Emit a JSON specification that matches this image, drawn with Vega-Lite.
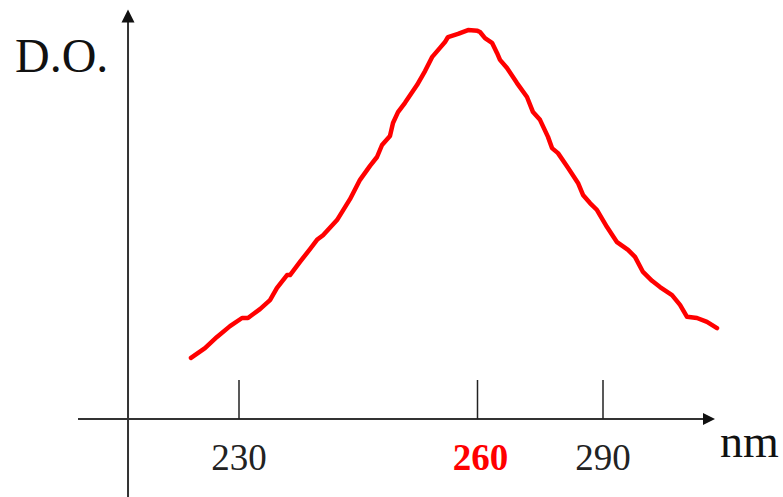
{
  "$schema": "https://vega.github.io/schema/vega-lite/v6.json",
  "width": 783,
  "height": 497,
  "autosize": "none",
  "padding": 0,
  "background": "white",
  "config": {"view": {"stroke": null}},
  "layer": [
    {
      "data": {"values": [
        {"nm": 209.75, "nm2": 314.4, "od": 0}
      ]},
      "mark": {"type": "rule", "color": "#333333", "strokeWidth": 2},
      "encoding": {
        "x": {"field": "nm", "type": "quantitative", "axis": null, "scale": {"domain": [230, 260, 290], "range": [239, 477.5, 603], "nice": false, "zero": false}},
        "x2": {"field": "nm2"},
        "y": {"field": "od", "type": "quantitative", "axis": null, "scale": {"domain": [0, 1], "range": [419, 32], "nice": false, "zero": false}}
      }
    },
    {
      "data": {"values": [
        {"nm": 216.04, "od": -0.21, "od2": 1.03}
      ]},
      "mark": {"type": "rule", "color": "#333333", "strokeWidth": 2},
      "encoding": {
        "x": {"field": "nm", "type": "quantitative"},
        "y": {"field": "od", "type": "quantitative"},
        "y2": {"field": "od2"}
      }
    },
    {
      "data": {"values": [
        {"nm": 216.04, "od": 1.0413, "dir": "up"}
      ]},
      "mark": {"type": "point", "shape": "M0,-1L1,1L-1,1Z", "size": 169, "filled": true, "color": "#111111", "opacity": 1},
      "encoding": {
        "x": {"field": "nm", "type": "quantitative"},
        "y": {"field": "od", "type": "quantitative"}
      }
    },
    {
      "data": {"values": [
        {"nm": 315.34, "od": 0, "dir": "right"}
      ]},
      "mark": {"type": "point", "shape": "M1,0L-1,-1L-1,1Z", "size": 144, "filled": true, "color": "#111111", "opacity": 1},
      "encoding": {
        "x": {"field": "nm", "type": "quantitative"},
        "y": {"field": "od", "type": "quantitative"}
      }
    },
    {
      "data": {"values": [
        {"nm": 230, "od": 0, "od2": 0.1008},
        {"nm": 260, "od": 0, "od2": 0.1008},
        {"nm": 290, "od": 0, "od2": 0.1008}
      ]},
      "mark": {"type": "rule", "color": "#222222", "strokeWidth": 1.5},
      "encoding": {
        "x": {"field": "nm", "type": "quantitative"},
        "y": {"field": "od", "type": "quantitative"},
        "y2": {"field": "od2"}
      }
    },
    {
      "data": {"values": [
        {"nm": 223.96, "od": 0.158}, {"nm": 225.72, "od": 0.183}, {"nm": 227.23, "od": 0.212},
        {"nm": 228.87, "od": 0.240}, {"nm": 230.38, "od": 0.261}, {"nm": 231.13, "od": 0.261},
        {"nm": 232.64, "od": 0.284}, {"nm": 233.90, "od": 0.307}, {"nm": 234.78, "od": 0.339},
        {"nm": 236.04, "od": 0.372}, {"nm": 236.42, "od": 0.372}, {"nm": 237.67, "od": 0.406},
        {"nm": 238.93, "od": 0.439}, {"nm": 239.81, "od": 0.463}, {"nm": 240.57, "od": 0.475},
        {"nm": 242.33, "od": 0.514}, {"nm": 243.96, "od": 0.568}, {"nm": 245.22, "od": 0.618},
        {"nm": 246.48, "od": 0.654}, {"nm": 247.36, "od": 0.677}, {"nm": 247.99, "od": 0.708},
        {"nm": 248.99, "od": 0.731}, {"nm": 249.37, "od": 0.765}, {"nm": 250.00, "od": 0.793},
        {"nm": 250.88, "od": 0.817}, {"nm": 252.39, "od": 0.863}, {"nm": 253.40, "od": 0.899},
        {"nm": 254.28, "od": 0.935}, {"nm": 255.28, "od": 0.959}, {"nm": 255.91, "od": 0.974},
        {"nm": 256.29, "od": 0.987}, {"nm": 257.55, "od": 0.995}, {"nm": 258.81, "od": 1.005},
        {"nm": 260.00, "od": 1.003}, {"nm": 260.60, "od": 1.000}, {"nm": 261.79, "od": 0.984},
        {"nm": 263.47, "od": 0.972}, {"nm": 264.66, "od": 0.946}, {"nm": 265.38, "od": 0.928},
        {"nm": 267.05, "od": 0.907}, {"nm": 269.44, "od": 0.868}, {"nm": 271.83, "od": 0.832},
        {"nm": 273.27, "od": 0.793}, {"nm": 274.94, "od": 0.773}, {"nm": 276.85, "od": 0.729},
        {"nm": 277.81, "od": 0.700}, {"nm": 279.24, "od": 0.687}, {"nm": 281.63, "od": 0.649},
        {"nm": 284.02, "od": 0.610}, {"nm": 285.22, "od": 0.579}, {"nm": 286.89, "od": 0.558},
        {"nm": 288.57, "od": 0.540}, {"nm": 290.96, "od": 0.496}, {"nm": 293.35, "od": 0.457},
        {"nm": 295.98, "od": 0.437}, {"nm": 297.65, "od": 0.419}, {"nm": 299.56, "od": 0.380},
        {"nm": 301.72, "od": 0.357}, {"nm": 303.63, "od": 0.341}, {"nm": 306.50, "od": 0.320},
        {"nm": 308.41, "od": 0.295}, {"nm": 310.08, "od": 0.264}, {"nm": 312.47, "od": 0.261},
        {"nm": 314.86, "od": 0.251}, {"nm": 317.25, "od": 0.235}
      ]},
      "mark": {"type": "line", "color": "#ff0000", "strokeWidth": 4.5, "strokeJoin": "round", "strokeCap": "round"},
      "encoding": {
        "x": {"field": "nm", "type": "quantitative"},
        "y": {"field": "od", "type": "quantitative"}
      }
    },
    {
      "data": {"values": [
        {"nm": 230, "od": -0.1318, "label": "230"},
        {"nm": 290, "od": -0.1318, "label": "290"}
      ]},
      "mark": {"type": "text", "font": "Liberation Serif", "fontSize": 37, "color": "#222222", "align": "center", "baseline": "alphabetic"},
      "encoding": {
        "x": {"field": "nm", "type": "quantitative"},
        "y": {"field": "od", "type": "quantitative"},
        "text": {"field": "label"}
      }
    },
    {
      "data": {"values": [
        {"nm": 260.7, "od": -0.1318, "label": "260"}
      ]},
      "mark": {"type": "text", "font": "Liberation Serif", "fontSize": 37, "fontWeight": "bold", "color": "#ff0000", "align": "center", "baseline": "alphabetic"},
      "encoding": {
        "x": {"field": "nm", "type": "quantitative"},
        "y": {"field": "od", "type": "quantitative"},
        "text": {"field": "label"}
      }
    },
    {
      "data": {"values": [
        {"nm": 317.97, "od": -0.098, "label": "nm"}
      ]},
      "mark": {"type": "text", "font": "Liberation Serif", "fontSize": 46, "color": "#111111", "align": "left", "baseline": "alphabetic"},
      "encoding": {
        "x": {"field": "nm", "type": "quantitative"},
        "y": {"field": "od", "type": "quantitative"},
        "text": {"field": "label"}
      }
    },
    {
      "data": {"values": [
        {"nm": 201.82, "od": 0.8966, "label": "D.O."}
      ]},
      "mark": {"type": "text", "font": "Liberation Serif", "fontSize": 48, "color": "#111111", "align": "left", "baseline": "alphabetic"},
      "encoding": {
        "x": {"field": "nm", "type": "quantitative"},
        "y": {"field": "od", "type": "quantitative"},
        "text": {"field": "label"}
      }
    }
  ]
}
